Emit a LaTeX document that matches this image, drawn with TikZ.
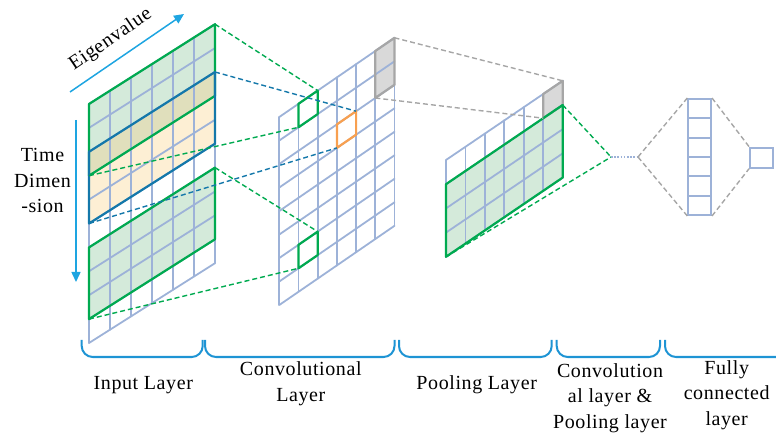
\documentclass[tikz,border=0pt]{standalone}
\usepackage{fontspec}
\setmainfont{Liberation Serif}
\newfontfamily\cnnfont{Liberation Serif}[LetterSpace=3]
\usepackage{tikz}
\usetikzlibrary{arrows.meta,positioning}
\definecolor{cnngridc}{RGB}{157,178,216}
\definecolor{cnngreenc}{RGB}{0,170,80}
\definecolor{cnngreenf}{RGB}{212,234,218}
\definecolor{cnnorangec}{RGB}{248,160,80}
\definecolor{cnnorangef}{RGB}{253,239,212}
\definecolor{cnnolivef}{RGB}{224,223,188}
\definecolor{cnnbluec}{RGB}{20,120,170}
\definecolor{cnngrayc}{RGB}{166,166,166}
\definecolor{cnngrayf}{RGB}{217,217,217}
\definecolor{cnnaxisc}{RGB}{30,165,225}
\definecolor{cnnbracec}{RGB}{30,148,212}
\tikzset{
  cnngrid/.style={draw=cnngridc, line width=1.8pt, line cap=round},
  cnngreen/.style={draw=cnngreenc, line width=2.2pt, line join=round},
  cnnblue/.style={draw=cnnbluec, line width=2.2pt, line join=round},
  cnnorange/.style={draw=cnnorangec, line width=2.2pt, line join=round},
  cnngray/.style={draw=cnngrayc, line width=2.2pt, line join=round},
  cnndash/.style={line width=1.4pt, dash pattern=on 5pt off 3pt},
  cnnfc/.style={draw=cnngridc, line width=2pt, minimum width=22.7pt, minimum height=19.3pt, inner sep=0pt},
  cnnaxis/.style={draw=cnnaxisc, line width=1.5pt, -{Triangle[length=10pt,width=9pt]}},
  cnnbrace/.style={draw=cnnbracec, line width=2pt, rounded corners=11pt},
  cnnlabel/.style={font=\cnnfont\fontsize{20pt}{25.5pt}\selectfont, align=center, inner sep=0pt, anchor=base}
}
% sheared cell block: corners (x1,y1) and (x2,y2) in grid units
\newcommand{\cnnquad}[5][]{\path[#1] (#2,#3) -- (#4,#3) -- (#4,#5) -- (#2,#5) -- cycle;}

\begin{document}
\begin{tikzpicture}[x=1pt, y=-1pt]
\useasboundingbox (0,0) rectangle (776,435);
\clip (0,0) rectangle (776,435);

% input layer
\begin{scope}[shift={(89,104)}, x={(21pt,13.3pt)}, y={(0pt,-23.9pt)}]
  \cnnquad[fill=cnngreenf]{0}{0}{6}{2}
  \cnnquad[fill=cnnolivef]{0}{2}{6}{3}
  \cnnquad[fill=cnnorangef]{0}{3}{6}{5}
  \cnnquad[fill=cnngreenf]{0}{6}{6}{9}
  \foreach \i in {0,...,6} \draw[cnngrid] (\i,0) -- (\i,10);
  \foreach \j in {0,...,10} \draw[cnngrid] (0,\j) -- (6,\j);
  \cnnquad[cnngreen]{0}{0}{6}{3}
  \cnnquad[cnnblue]{0}{2}{6}{5}
  \cnnquad[cnngreen]{0}{6}{6}{9}
  \coordinate (in-top-tr) at (6,0);
  \coordinate (in-top-bl) at (0,3);
  \coordinate (in-mid-tr) at (6,2);
  \coordinate (in-mid-bl) at (0,5);
  \coordinate (in-low-tr) at (6,6);
  \coordinate (in-low-bl) at (0,9);
\end{scope}

% convolutional layer
\begin{scope}[shift={(279.3,117)}, x={(19.2pt,13.2pt)}, y={(0pt,-23.5pt)}]
  \cnnquad[fill=cnngrayf]{5}{0}{6}{2}
  \foreach \i in {0,...,6} \draw[cnngrid] (\i,0) -- (\i,8);
  \foreach \j in {0,...,8} \draw[cnngrid] (0,\j) -- (6,\j);
  \cnnquad[cnngray]{5}{0}{6}{2}
  \cnnquad[cnngreen]{1}{0}{2}{1}
  \cnnquad[cnnorange]{3}{2}{4}{3}
  \cnnquad[cnngreen]{1}{6}{2}{7}
  \coordinate (cv-top-tr) at (2,0);
  \coordinate (cv-top-bl) at (1,1);
  \coordinate (cv-mid-tr) at (4,2);
  \coordinate (cv-mid-bl) at (3,3);
  \coordinate (cv-low-tr) at (2,6);
  \coordinate (cv-low-bl) at (1,7);
  \coordinate (cv-sel-tr) at (6,0);
  \coordinate (cv-sel-bl) at (5,2);
\end{scope}

% pooling layer
\begin{scope}[shift={(446,160)}, x={(19.45pt,13.2pt)}, y={(0pt,-24.2pt)}]
  \cnnquad[fill=cnngrayf]{5}{0}{6}{1}
  \cnnquad[fill=cnngreenf]{0}{1}{6}{4}
  \foreach \i in {0,...,6} \draw[cnngrid] (\i,0) -- (\i,4);
  \foreach \j in {0,...,4} \draw[cnngrid] (0,\j) -- (6,\j);
  \cnnquad[cnngray]{5}{0}{6}{1}
  \cnnquad[cnngreen]{0}{1}{6}{4}
  \coordinate (pl-sel-tr) at (6,0);
  \coordinate (pl-sel-bl) at (5,1);
  \coordinate (pl-box-tr) at (6,1);
  \coordinate (pl-box-bl) at (0,4);
\end{scope}

% fully connected part
\coordinate (cp-in) at (611,157);
\coordinate (cp-out) at (638,157);
\foreach \i in {1,...,6}
  \node[cnnfc] (fc\i) at (699.65,89.33+19.33*\i) {};
\node[cnnfc, minimum width=23.3pt, minimum height=20pt] (out) at (761.7,157.7) {};

% connections
\draw[cnndash, cnngreenc] (in-top-tr) -- (cv-top-tr);
\draw[cnndash, cnngreenc] (in-top-bl) -- (cv-top-bl);
\draw[cnndash, cnnbluec] (in-mid-tr) -- (cv-mid-tr);
\draw[cnndash, cnnbluec] (in-mid-bl) -- (cv-mid-bl);
\draw[cnndash, cnngreenc] (in-low-tr) -- (cv-low-tr);
\draw[cnndash, cnngreenc] (in-low-bl) -- (cv-low-bl);
\draw[cnndash, cnngrayc] (cv-sel-tr) -- (pl-sel-tr);
\draw[cnndash, cnngrayc] (cv-sel-bl) -- (pl-sel-bl);
\draw[cnndash, cnngreenc] (pl-box-tr) -- (cp-in);
\draw[cnndash, cnngreenc] (pl-box-bl) -- (cp-in);
\draw[cnngridc, line width=1.6pt, dash pattern=on 1.6pt off 1.6pt] (cp-in) -- (cp-out);
\draw[cnndash, cnngrayc] (cp-out) -- (fc1.north west);
\draw[cnndash, cnngrayc] (cp-out) -- (fc6.south west);
\draw[cnndash, cnngrayc] (fc1.north east) -- (out.north west);
\draw[cnndash, cnngrayc] (fc6.south east) -- (out.south west);

% axes
\coordinate (eig-s) at (70,92);
\coordinate (eig-e) at (184,14);
\draw[cnnaxis] (eig-s) -- (eig-e);
\node[cnnlabel, rotate=34.3] (eigtxt) at (113.4,43.8) {Eigenvalue};
\coordinate (time-s) at (76,120);
\coordinate (time-e) at (76,282);
\draw[cnnaxis] (time-s) -- (time-e);
\node[cnnlabel] (timetxt) at (42.5,212.7) {Time\\Dimen\\-sion};

% braces and layer names
\draw[cnnbrace] (81.7,340) -- (81.7,357) -- (202.7,357) -- (202.7,340);
\draw[cnnbrace] (205,340) -- (205,357) -- (394.5,357) -- (394.5,340);
\draw[cnnbrace] (399,340) -- (399,357) -- (551.7,357) -- (551.7,340);
\draw[cnnbrace] (556.7,340) -- (556.7,357) -- (660,357) -- (660,340);
\draw[cnnbrace] (665,340) -- (665,357) -- (795,357) -- (795,340);
\node[cnnlabel] (lblin) at (143.3,389.3) {Input Layer};
\node[cnnlabel] (lblconv) at (300.8,401) {Convolutional\\Layer};
\node[cnnlabel] (lblpool) at (476.7,389.3) {Pooling Layer};
\node[cnnlabel] (lblcp) at (610,428.3) {Convolution\\al layer \&\\Pooling layer};
\node[cnnlabel] (lblfc) at (726.7,425) {Fully\\connected\\layer};
\end{tikzpicture}
\end{document}
